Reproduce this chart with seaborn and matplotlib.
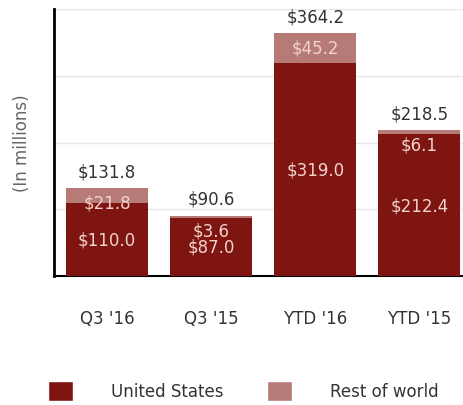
import numpy as np
import pandas as pd
import seaborn as sns
import matplotlib.pyplot as plt
from matplotlib.patches import Patch

# Data
periods = ["Q3 '16", "Q3 '15", "YTD '16", "YTD '15"]
us = [110.0, 87.0, 319.0, 212.4]
rest = [21.8, 3.6, 45.2, 6.1]
totals = [131.8, 90.6, 364.2, 218.5]

dark_red = '#7e1510'
light_red = '#b67a77'

sns.set_style("white")
plt.rcParams['font.family'] = ['DejaVu Sans']

df = pd.DataFrame({'period': periods, 'us': us, 'rest': rest, 'total': totals})

fig = plt.figure(figsize=(4.63, 4.06), dpi=100)
ax = fig.add_axes([0.1166, 0.3177, 0.8834, 0.6576])

# Stacked bars: full total in light, US on top in dark
sns.barplot(data=df, x='period', y='total', color=light_red, width=0.79,
            saturation=1, linewidth=0, ax=ax, zorder=2)
sns.barplot(data=df, x='period', y='us', color=dark_red, width=0.79,
            saturation=1, linewidth=0, ax=ax, zorder=3)

# Labels
for i, row in df.iterrows():
    ax.text(i, row['total'] + 25, f"${row['total']:.1f}", ha='center', va='center',
            fontsize=12, color='#333333', zorder=4)
    ax.text(i, row['total'] - 22, f"${row['rest']:.1f}", ha='center', va='center',
            fontsize=12, color='#f2d3cf', zorder=4)
    ax.text(i, row['us'] / 2, f"${row['us']:.1f}", ha='center', va='center',
            fontsize=12, color='#f2d3cf', zorder=4)

ax.set_ylim(0, 400)
ax.set_xlim(-0.51, 3.42)
ax.set_yticks([100, 200, 300, 400])
ax.set_yticklabels([])
ax.tick_params(axis='y', length=0)
ax.grid(axis='y', color='#e6e6e6', linewidth=1, zorder=0)
ax.set_axisbelow(True)
ax.tick_params(axis='x', length=9, width=1, color='#777777', pad=15,
               labelsize=12, labelcolor='#333333')
ax.set_xlabel('')
ax.set_ylabel('(In millions)', fontsize=12, color='#666666', labelpad=13)

for s in ['top', 'right']:
    ax.spines[s].set_visible(False)
ax.spines['left'].set_color('black')
ax.spines['left'].set_linewidth(2)
ax.spines['bottom'].set_color('black')
ax.spines['bottom'].set_linewidth(1.5)

handles = [Patch(facecolor=dark_red, label='United States'),
           Patch(facecolor=light_red, label='Rest of world')]
fig.legend(handles=handles, loc='center', bbox_to_anchor=(0.525, 0.035), ncol=2,
           frameon=False, fontsize=12, handlelength=1.5, handleheight=1.5,
           handletextpad=2.3, columnspacing=2.6, labelcolor='#333333')

plt.savefig('out.png', dpi=100)
